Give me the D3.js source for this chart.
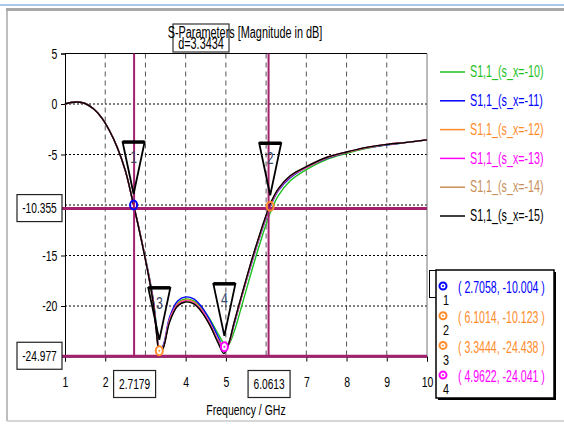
<!DOCTYPE html>
<html>
<head>
<meta charset="utf-8">
<script src="https://cdn.jsdelivr.net/npm/d3@7"></script>
<style>
  body { margin: 0; background: #fff; }
  text { font-family: "Liberation Sans", Arial, sans-serif; }
</style>
</head>
<body>
<div id="chart"></div>
<script>
// frequency points (GHz), shared by all six traces
const freq = [1.0, 1.15, 1.3, 1.5, 1.7, 1.9, 2.1, 2.3, 2.5, 2.7,
  2.9, 3.1, 3.2, 3.28, 3.35, 3.45, 3.6, 3.8, 4.0, 4.2,
  4.4, 4.6, 4.8, 4.95, 5.05, 5.2, 5.4, 5.6, 5.8, 6.0,
  6.1, 6.3, 6.6, 7.0, 7.5, 8.0, 8.5, 9.0, 9.5, 10]

const s10 = [0.0, 0.15, 0.2, 0.05, -0.45, -1.3, -2.6, -4.3, -6.6, -9.9,
  -13.4, -17.2, -19.5, -22.2, -24.3, -23.9, -21.3, -19.7, -19.3, -19.5,
  -20.2, -21.3, -22.7, -23.7, -23.9, -22.6, -19.9, -17.1, -14.4, -11.9,
  -10.8, -9.1, -7.6, -6.5, -5.5, -4.9, -4.4, -4.05, -3.8, -3.55]
const s11 = [0.0, 0.15, 0.2, 0.05, -0.45, -1.3, -2.6, -4.3, -6.6, -9.9,
  -13.4, -17.3, -19.6, -22.4, -24.5, -23.8, -21.1, -19.5, -19.1, -19.3,
  -20.1, -21.4, -23.0, -24.1, -23.8, -21.9, -19.0, -16.3, -13.7, -11.3,
  -10.2, -8.6, -7.3, -6.3, -5.4, -4.8, -4.35, -4.05, -3.8, -3.55]
const s12 = [0.0, 0.15, 0.2, 0.05, -0.45, -1.3, -2.6, -4.3, -6.6, -9.9,
  -13.4, -17.4, -19.8, -22.6, -24.45, -24.0, -21.3, -19.8, -19.4, -19.6,
  -20.4, -21.7, -23.3, -24.0, -23.9, -21.8, -19.0, -16.2, -13.6, -11.2,
  -10.1, -8.5, -7.2, -6.3, -5.35, -4.8, -4.35, -4.0, -3.8, -3.55]
const s13 = [0.0, 0.15, 0.2, 0.05, -0.45, -1.3, -2.6, -4.3, -6.6, -9.9,
  -13.5, -17.4, -19.8, -22.7, -24.6, -24.0, -21.4, -19.9, -19.5, -19.7,
  -20.5, -21.8, -23.4, -24.05, -23.9, -21.7, -18.9, -16.1, -13.5, -11.1,
  -10.0, -8.5, -7.15, -6.25, -5.3, -4.75, -4.3, -4.0, -3.8, -3.55]
const s14 = [0.0, 0.15, 0.2, 0.05, -0.45, -1.3, -2.6, -4.3, -6.6, -9.9,
  -13.5, -17.5, -19.9, -22.8, -24.7, -24.0, -21.5, -20.0, -19.55, -19.75,
  -20.6, -21.9, -23.5, -24.4, -23.9, -21.7, -18.85, -16.05, -13.45, -11.05,
  -9.95, -8.45, -7.1, -6.2, -5.3, -4.75, -4.3, -4.0, -3.8, -3.55]
const s15 = [0.0, 0.15, 0.2, 0.05, -0.45, -1.3, -2.6, -4.3, -6.6, -9.9,
  -13.5, -17.5, -19.9, -22.9, -24.8, -24.1, -21.6, -20.0, -19.6, -19.8,
  -20.6, -21.9, -23.6, -24.7, -24.0, -21.7, -18.8, -16.0, -13.4, -11.0,
  -9.9, -8.4, -7.1, -6.2, -5.3, -4.75, -4.3, -4.0, -3.8, -3.55]

const seriesNames = ['S1,1_(s_x=-10)', 'S1,1_(s_x=-11)', 'S1,1_(s_x=-12)',
  'S1,1_(s_x=-13)', 'S1,1_(s_x=-14)', 'S1,1_(s_x=-15)']
const seriesValues = [s10, s11, s12, s13, s14, s15]
const seriesColors = ['#1fbf1f', '#0000ff', '#ff8c2a', '#ff00ff', '#c8905a', '#000000']

// 3 and 6 on x, -10 and -25 on y sit under the marker boxes
const xTicks = [1, 2, 4, 5, 7, 8, 9, 10]
const yTicks = [5, 0, -5, -15, -20]
const xGrid = [2, 3, 4, 5, 6, 7, 8, 9]
const yGrid = [0, -5, -10, -15, -20]

// marker lines and readouts
const vMarkers = [2.7179, 6.0613]
const hMarkers = [-10.355, -24.977]
const markerNums = [1, 2, 3, 4]
const markerF = [2.7058, 6.1014, 3.3444, 4.9622]
const markerV = [-10.004, -10.123, -24.438, -24.041]
const markerSeries = [1, 2, 2, 3]
const deltaLabel = 'd=3.3434'

const width = 564, height = 424
const margin = {top: 53.5, right: 137, bottom: 67.5, left: 65}
const mColor = '#a3206e'
const FONT = '"Liberation Sans", Arial, sans-serif'

const svg = d3.select('#chart').append('svg')
  .attr('width', width).attr('height', height)

const x = d3.scaleLinear().domain([1, 10]).range([margin.left, width - margin.right])
const y = d3.scaleLinear().domain([-25, 5]).range([height - margin.bottom, margin.top])

function label(sel, px, py, s, o) {
  o = o || {}
  return sel.append('text')
    .attr('transform', `translate(${px},${py}) scale(${o.sx || 0.7},1)`)
    .attr('font-size', o.fs || 15)
    .attr('fill', o.fill || '#000')
    .attr('text-anchor', o.anchor || 'start')
    .attr('dominant-baseline', 'central')
    .text(s)
}

// window frame
svg.append('line').attr('x1', 0).attr('x2', width).attr('y1', 5).attr('y2', 5)
  .attr('stroke', '#8fb4e0').attr('stroke-width', 1.5)
svg.append('line').attr('x1', 6).attr('x2', width).attr('y1', 9.5).attr('y2', 9.5)
  .attr('stroke', '#a8a8a8').attr('stroke-width', 3)
svg.append('line').attr('x1', 7).attr('x2', 7).attr('y1', 10).attr('y2', 421)
  .attr('stroke', '#a8a8a8').attr('stroke-width', 1.5)
svg.append('line').attr('x1', 7).attr('x2', width).attr('y1', 421).attr('y2', 421)
  .attr('stroke', '#c8c8c8').attr('stroke-width', 1.5)

// grid
svg.append('g').selectAll('line').data(xGrid).enter().append('line')
  .attr('x1', d => x(d)).attr('x2', d => x(d))
  .attr('y1', y(5)).attr('y2', y(-25))
  .attr('stroke', '#555').attr('stroke-dasharray', '5,4')
svg.append('g').selectAll('line').data(yGrid).enter().append('line')
  .attr('x1', x(1)).attr('x2', x(10))
  .attr('y1', d => y(d)).attr('y2', d => y(d))
  .attr('stroke', '#000').attr('stroke-dasharray', '2,2')

// axes
const yAxis = svg.append('g')
  .attr('transform', `translate(${margin.left},0)`)
  .call(d3.axisLeft(y).tickValues(yTicks).tickSize(4).tickFormat(d => String(d)))
yAxis.select('.domain').attr('stroke', '#000')
yAxis.selectAll('.tick text')
  .attr('font-size', 15).attr('font-family', FONT)
  .attr('transform', 'scale(0.7,1)').attr('x', -11)

const xAxis = svg.append('g')
  .attr('transform', `translate(0,${y(-25)})`)
  .call(d3.axisBottom(x).tickValues(xTicks).tickSize(5).tickFormat(d => String(d)))
xAxis.select('.domain').attr('stroke', '#000')
xAxis.selectAll('.tick text')
  .attr('font-size', 15).attr('font-family', FONT)
  .attr('transform', 'scale(0.7,1)').attr('y', 20)

// plot frame top/right
svg.append('line').attr('x1', x(1)).attr('x2', x(10)).attr('y1', y(5)).attr('y2', y(5))
  .attr('stroke', '#000')
svg.append('line').attr('x1', x(10)).attr('x2', x(10)).attr('y1', y(5)).attr('y2', y(-25))
  .attr('stroke', '#777')

// curves
const line = d3.line()
  .x((d, i) => x(freq[i]))
  .y(d => y(d))
  .curve(d3.curveCatmullRom.alpha(0.5))

seriesValues.forEach(function(vals, i) {
  svg.append('path')
    .attr('d', line(vals))
    .attr('fill', 'none')
    .attr('stroke', seriesColors[i])
    .attr('stroke-width', 1.4)
})

// marker lines
svg.append('g').selectAll('line').data(vMarkers).enter().append('line')
  .attr('x1', d => x(d)).attr('x2', d => x(d))
  .attr('y1', y(5)).attr('y2', y(-25))
  .attr('stroke', mColor).attr('stroke-width', 2)
svg.append('g').selectAll('line').data(hMarkers).enter().append('line')
  .attr('x1', x(1) - 3).attr('x2', x(10))
  .attr('y1', d => y(d)).attr('y2', d => y(d))
  .attr('stroke', mColor).attr('stroke-width', 3)

// marker triangles and circles
markerNums.forEach(function(n, i) {
  const px = x(markerF[i]), py = y(markerV[i])
  const col = seriesColors[markerSeries[i]]
  const tip = py - 11, top = py - 63
  svg.append('path')
    .attr('d', `M${px - 11},${top} L${px + 11},${top} L${px},${tip} Z`)
    .attr('fill', 'none').attr('stroke', '#000').attr('stroke-width', 1.8)
  svg.append('line').attr('x1', px - 11).attr('x2', px + 11)
    .attr('y1', top).attr('y2', top)
    .attr('stroke', '#000').attr('stroke-width', 3.5)
  label(svg, px, top + 15, String(n), {fs: 17, sx: 0.72, anchor: 'middle', fill: '#3a4a6a'})
  svg.append('ellipse').attr('cx', px).attr('cy', py)
    .attr('rx', 3.5).attr('ry', 4.5)
    .attr('fill', n > 2 ? '#fff' : 'none').attr('stroke', col).attr('stroke-width', 2)
  if (n > 2) {
    svg.append('circle').attr('cx', px).attr('cy', py).attr('r', 1).attr('fill', col)
  }
})

// boxed marker values on the axes
function boxLabel(cx, cy, w, h, s) {
  svg.append('rect').attr('x', cx - w / 2).attr('y', cy - h / 2)
    .attr('width', w).attr('height', h)
    .attr('fill', '#fff').attr('stroke', '#222').attr('stroke-width', 1.2)
  label(svg, cx, cy, s, {anchor: 'middle', fs: 15, sx: 0.68})
}
hMarkers.forEach(v => boxLabel(39.5, y(v) - 0.5, 45, 27, v.toFixed(3)))
vMarkers.forEach(f => boxLabel(x(f) + 0.5, 384, 42, 27, f.toFixed(4)))

// title and delta box
svg.append('rect').attr('x', 173).attr('y', 24).attr('width', 56).attr('height', 28)
  .attr('fill', '#fff').attr('stroke', '#333').attr('stroke-width', 1.2)
label(svg, 245, 33, 'S-Parameters [Magnitude in dB]', {fs: 16, sx: 0.68, anchor: 'middle'})
label(svg, 201, 44, deltaLabel, {fs: 16, sx: 0.68, anchor: 'middle'})

label(svg, (x(1) + x(10)) / 2, 410, 'Frequency / GHz', {fs: 15, sx: 0.7, anchor: 'middle'})

// legend
const legend = svg.append('g')
seriesNames.forEach(function(name, i) {
  const ly = 72 + i * 28.8
  legend.append('line').attr('x1', 440).attr('x2', 465).attr('y1', ly).attr('y2', ly)
    .attr('stroke', seriesColors[i]).attr('stroke-width', 1.5)
  label(legend, 470, ly, name, {fs: 16, sx: 0.67, fill: seriesColors[i]})
})

// marker readout box
svg.append('rect').attr('x', 429.5).attr('y', 270.5).attr('width', 8).attr('height', 27)
  .attr('fill', '#fff').attr('stroke', '#000')
svg.append('rect').attr('x', 436).attr('y', 270).attr('width', 118).attr('height', 128)
  .attr('fill', '#fff').attr('stroke', '#000').attr('stroke-width', 1.5)
svg.append('path').attr('d', 'M555,272 L555,399 L438,399')
  .attr('fill', 'none').attr('stroke', '#000').attr('stroke-width', 2)
markerNums.forEach(function(n, i) {
  const ry = 288 + i * 29.7
  const col = seriesColors[markerSeries[i]]
  svg.append('circle').attr('cx', 443).attr('cy', ry - 2).attr('r', 3.5)
    .attr('fill', 'none').attr('stroke', col).attr('stroke-width', 2)
  svg.append('circle').attr('cx', 443).attr('cy', ry - 2).attr('r', 1).attr('fill', col)
  label(svg, 446, ry + 12, String(n), {fs: 15, sx: 0.72, anchor: 'middle'})
  label(svg, 458, ry, `( ${markerF[i].toFixed(4)}, ${markerV[i].toFixed(3)} )`,
    {fs: 16, sx: 0.66, fill: col})
})
</script>
</body>
</html>
